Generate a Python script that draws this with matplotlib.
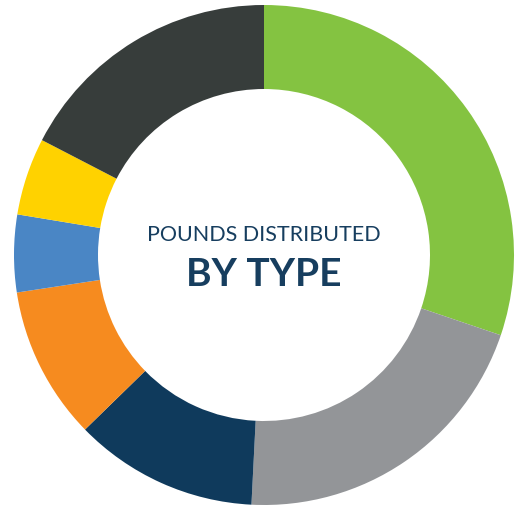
import matplotlib
matplotlib.use("Agg")
import matplotlib.pyplot as plt

# share of pounds distributed, clockwise from 12 o'clock
categories = ["Green", "Gray", "Navy", "Orange", "Blue", "Yellow", "Charcoal"]
shares = [30.2, 20.6, 11.9, 9.9, 5.0, 5.0, 17.4]
colors = ["#84C341", "#939598", "#0F3A5C", "#F68B1F", "#4A86C5", "#FFD200", "#373D3B"]

title_small = "POUNDS DISTRIBUTED"
title_big = "BY TYPE"
text_color = "#173E5F"

fig = plt.figure(figsize=(5.2, 5.1), dpi=100)
ax = fig.add_axes([0, 0, 1, 1])

R = 250.0  # outer radius in px
ax.pie(shares, colors=colors, startangle=90, counterclock=False,
       radius=1.0, wedgeprops=dict(width=0.336, linewidth=0))

ax.set_xlim(-264 / R, (520 - 264) / R)
ax.set_ylim(-(510 - 256) / R, 256 / R)
ax.set_aspect("equal")
ax.axis("off")

ax.text(0, 21 / R, title_small, ha="center", va="center", fontsize=15.5,
        color=text_color, family=["Lato", "DejaVu Sans"])
ax.text(0, -19 / R, title_big, ha="center", va="center", fontsize=28,
        fontweight="bold", color=text_color, family=["Lato", "DejaVu Sans"])

fig.savefig("out.png", dpi=100, facecolor="white")
